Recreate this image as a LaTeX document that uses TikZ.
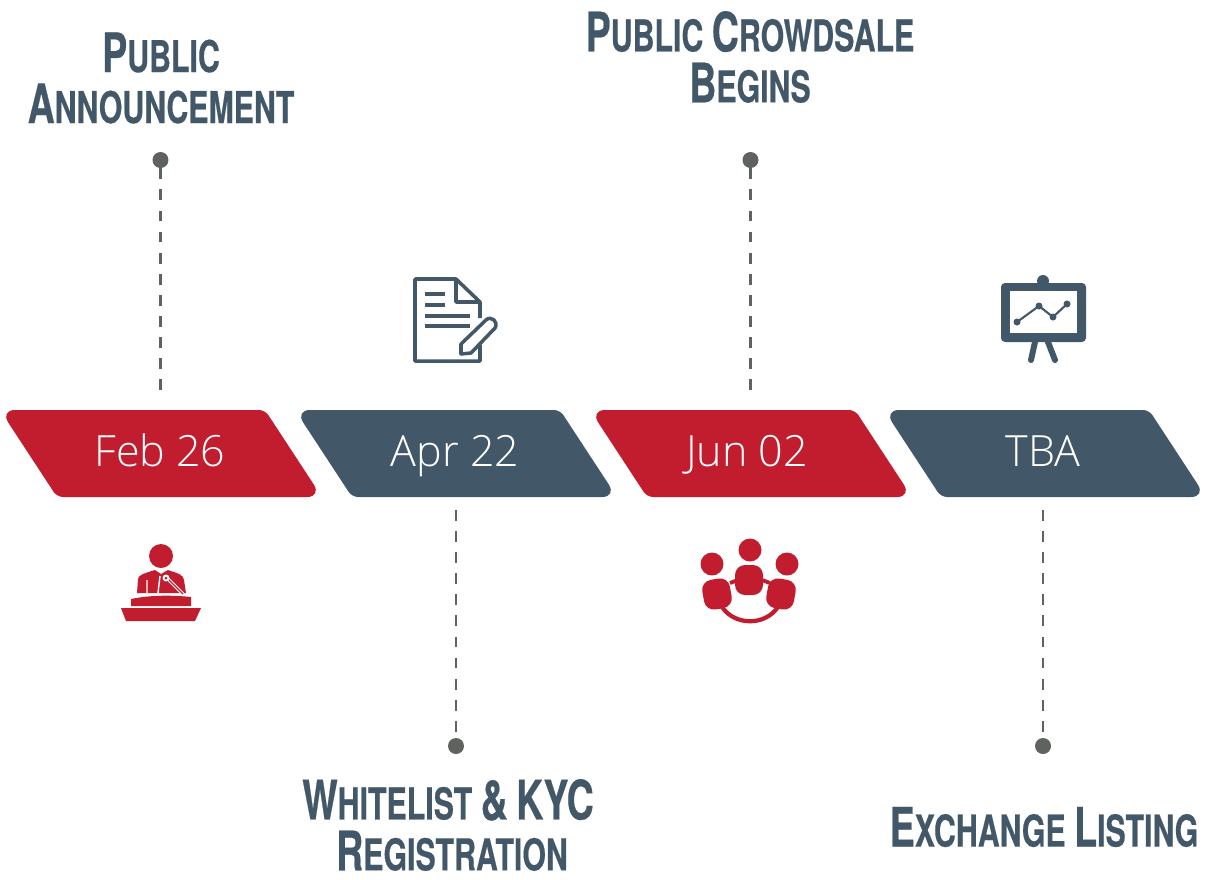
\documentclass[tikz,border=0pt]{standalone}
\usepackage{fontspec}
\setmainfont{Open Sans Light}
\newfontfamily\headfont[FakeStretch=0.69,FakeBold=0.4]{TeX Gyre Heros Bold}
\definecolor{crowdred}{HTML}{C21D2E}
\definecolor{slate}{HTML}{425868}
\definecolor{dotgray}{HTML}{5F6360}
\newcommand{\tallcap}[1]{{\fontsize{31}{31}\selectfont #1}}
\newcommand{\bandpath}{(100,410) [rounded corners=0.12cm] -- (265,410) [rounded corners=0.3cm] -- (322,497) [rounded corners=0.12cm] -- (57,497) [rounded corners=0.3cm] -- (0,410) [rounded corners=0.12cm] -- cycle}
\tikzset{
  date/.style={text=white,anchor=base,font=\fontsize{24.5}{30}\selectfont},
  headline/.style={text=slate,align=center,inner sep=0pt,font=\headfont\fontsize{25}{29}\selectfont},
  pin/.style={circle,fill=dotgray,inner sep=0pt,minimum size=0.32cm},
  stem/.style={draw=dotgray,line width=1.7pt,dash pattern=on 6.2pt off 5.8pt},
  outline/.style={draw=slate,line width=2pt,line join=round,fill=none}
}
\begin{document}
\begin{tikzpicture}[x=0.02cm,y=-0.02cm]
\useasboundingbox (0,0) rectangle (1205,880);

% bands
\fill[crowdred] \bandpath;
\fill[slate,shift={(295,0)}] \bandpath;
\fill[crowdred,shift={(590,0)}] \bandpath;
\fill[slate,shift={(884,0)}] \bandpath;
\node[date](feb) at (160,466){Feb 26};
\node[date](apr) at (455,466){Apr 22};
\node[date](jun) at (747,466){Jun 02};
\node[date](tba) at (1043,466){TBA};

% pins and stems
\node[pin](pinfeb) at (160.5,160){};
\node[pin](pinapr) at (456,746){};
\node[pin](pinjun) at (750.5,160){};
\node[pin](pintba) at (1043,746){};
\coordinate(stemfeb) at (160.5,397);
\coordinate(stemapr) at (456,510);
\coordinate(stemjun) at (750.5,397);
\coordinate(stemtba) at (1043,510);
\draw[stem] (pinfeb) -- (stemfeb);
\draw[stem] (pinjun) -- (stemjun);
\draw[stem] (stemapr) -- (pinapr);
\draw[stem] (stemtba) -- (pintba);

% headings
\node[headline](announce) at (161,78){\tallcap{P}UBLIC\\\tallcap{A}NNOUNCEMENT};
\node[headline](crowdsale) at (750,57){\tallcap{P}UBLIC \tallcap{C}ROWDSALE\\\tallcap{B}EGINS};
\node[headline](whitelist) at (448,825){\tallcap{W}HITELIST \tallcap{\&} \tallcap{KYC}\\\hspace*{0.16cm}\tallcap{R}EGISTRATION};
\node[headline](listing) at (1044,827){\tallcap{E}XCHANGE \tallcap{L}ISTING};

% speaker
\fill[crowdred] (161,556) circle (12);
\fill[crowdred] (137,593) -- (138,579) .. controls (139,575) and (142,574) .. (155,570) -- (161,574) -- (168,570) .. controls (180,574) and (183,575) .. (184,580) -- (186,593) -- cycle;
\draw[white,line width=0.8pt] (147,580) -- (147,593) (160,576) -- (158,593);
\draw[white,line width=2pt] (167,578) -- (183,594);
\draw[crowdred,line width=0.7pt] (167,578) -- (183,594);
\fill[white] (166,578) circle (3.5);
\fill[crowdred] (166,578) circle (1.5);
\fill[crowdred] (131,599) .. controls (150,595) and (172,595) .. (191,597) -- (191,606) -- (131,606) -- cycle;
\fill[crowdred] (121,608) -- (201,608) -- (195,621) -- (126,621) -- cycle;

% group
\fill[crowdred] (750,550) circle (11.5);
\fill[crowdred] (712,564) circle (11.5);
\fill[crowdred] (787,564) circle (11.5);
\draw[crowdred,line width=2.2pt] (730,583) -- (738,580);
\draw[crowdred,line width=2.2pt] (770,583) -- (762,580);
\draw[crowdred,line width=2.4pt] (722,607) .. controls (735,626) and (765,626) .. (778,607);
\fill[crowdred,rounded corners=0.2cm] (735,565) rectangle (763,595);
\fill[crowdred,rounded corners=0.2cm,rotate around={10:(717,594)}] (703,579) rectangle (731,609);
\fill[crowdred,rounded corners=0.2cm,rotate around={-10:(781,594)}] (767,579) rectangle (795,609);

% document
\draw[outline] (480,345) -- (480,361) -- (415,361) -- (415,279) -- (456,279) -- (480,302) -- (480,318);
\draw[outline] (456,279) -- (456,302) -- (480,302);
\draw[outline] (425,294) -- (445,294);
\draw[outline] (425,305) -- (445,305);
\draw[outline] (425,316) -- (470,316);
\draw[outline] (425,326) -- (470,326);
\draw[outline] (461,354) -- (461,344) -- (486,320) .. controls (491,315) and (499,322) .. (495,328) -- (471,353) -- cycle;

% board
\fill[slate,rounded corners=0.08cm] (1001,283) rectangle (1086,342);
\fill[white] (1010,291) rectangle (1077,333);
\fill[slate] (1043,281) circle (6);
\draw[slate,line width=3.4pt,line cap=round] (1035,342) -- (1031,360);
\draw[slate,line width=3.4pt,line cap=round] (1048,342) -- (1055,360);
\draw[slate,line width=1.2pt] (1017,322) -- (1039,306) -- (1053,317) -- (1067,304);
\fill[slate] (1017,322) circle (3.5);
\fill[slate] (1039,306) circle (3.5);
\fill[slate] (1053,317) circle (3.5);
\fill[slate] (1067,304) circle (3.5);

\end{tikzpicture}
\end{document}
